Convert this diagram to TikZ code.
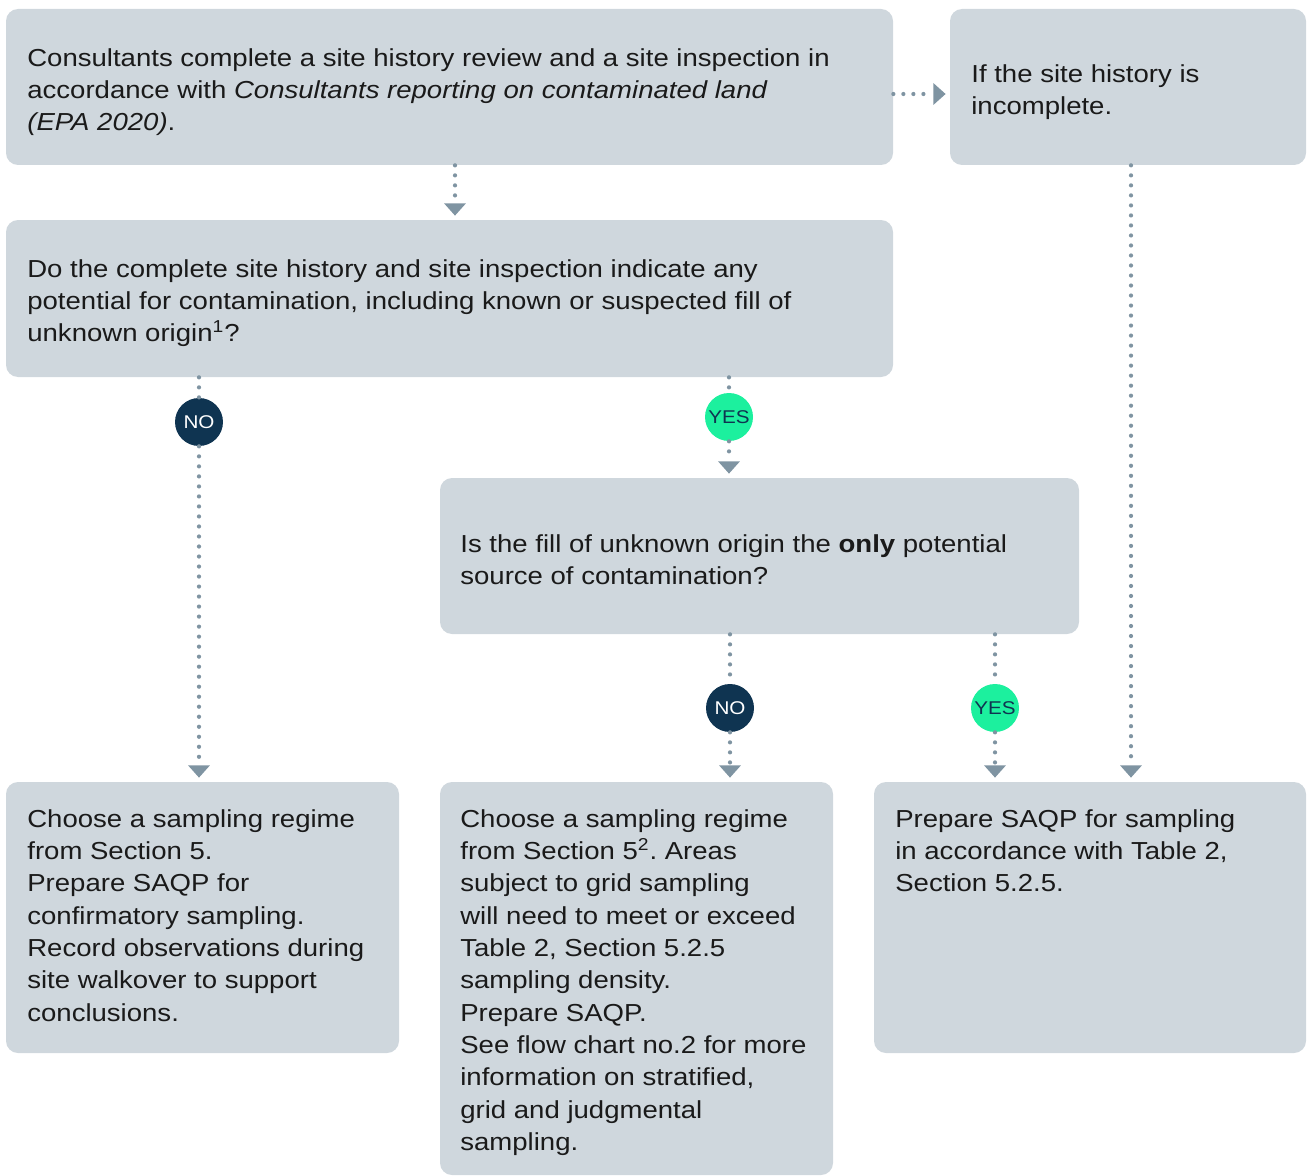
\documentclass[tikz,border=0pt]{standalone}
\usepackage{fontspec}
\setmainfont{Liberation Sans}[FakeStretch=1.12]
\usetikzlibrary{arrows.meta,fit}
\definecolor{boxfill}{HTML}{CFD7DD}
\definecolor{connc}{HTML}{7F94A2}
\definecolor{navy}{HTML}{0F3451}
\definecolor{mint}{HTML}{1CF09E}
\definecolor{txtc}{HTML}{1A1A1A}
\frenchspacing
\begin{document}
\begin{tikzpicture}[x=0.02cm,y=-0.02cm,
  box/.style={fill=boxfill, draw=none, rounded corners=0.24cm, inner sep=0pt},
  txt/.style={align=left, inner sep=0pt, text=txtc, font=\fontsize{14}{18.4}\selectfont},
  conn/.style={draw=connc, line width=2.4pt, line cap=round, dash pattern=on 0pt off 5.7pt,
    -{Triangle[width=12.5pt,length=7pt,line width=0pt]}, shorten >=2.3pt},
  plain/.style={draw=connc, line width=2.4pt, line cap=round, dash pattern=on 0pt off 5.7pt},
  badge/.style={circle, inner sep=0pt, minimum size=0.96cm, font=\fontsize{10.5}{12}\selectfont},
  badgeno/.style={badge, fill=navy, text=white},
  badgeyes/.style={badge, fill=mint, text=navy}]
\useasboundingbox (0,0) rectangle (1309,1176);

% boxes
\node[box, fit={(6,9)(893,165)}] (b1) {};
\node[box, fit={(950,9)(1306,165)}] (b2) {};
\node[box, fit={(6,220)(893,377)}] (b3) {};
\node[box, fit={(440,478)(1079,634)}] (b4) {};
\node[box, fit={(6,782)(399,1053)}] (b5) {};
\node[box, fit={(440,782)(833,1175)}] (b6) {};
\node[box, fit={(874,782)(1306,1053)}] (b7) {};

% texts
\node[txt, anchor=west] (t1) at (27,92) {Consultants complete a site history review and a site inspection in\\
accordance with \textit{Consultants reporting on contaminated land}\\
\textit{(EPA 2020)}.};
\node[txt, anchor=west] (t2) at (971,92) {If the site history is\\incomplete.};
\node[txt, anchor=west] (t3) at (27,303) {Do the complete site history and site inspection indicate any\\
potential for contamination, including known or suspected fill of\\
unknown origin\textsuperscript{1}?};
\node[txt, anchor=west] (t4) at (460,560) {Is the fill of unknown origin the \textbf{only} potential\\source of contamination?};
\node[txt, anchor=north west] (t5) at (27,809) {Choose a sampling regime\\from Section 5.\\Prepare SAQP for\\confirmatory sampling.\\Record observations during\\site walkover to support\\conclusions.};
\node[txt, anchor=north west] (t6) at (460,809) {Choose a sampling regime\\from Section 5\textsuperscript{2}. Areas\\subject to grid sampling\\will need to meet or exceed\\Table 2, Section 5.2.5\\sampling density.\\Prepare SAQP.\\See flow chart no.2 for more\\information on stratified,\\grid and judgmental\\sampling.};
\node[txt, anchor=north west] (t7) at (895,809) {Prepare SAQP for sampling\\in accordance with Table 2,\\Section 5.2.5.};

% badges
\node[badgeno] (n1) at (199,422) {NO};
\node[badgeyes] (y1) at (729,417) {YES};
\node[badgeno] (n2) at (730,708) {NO};
\node[badgeyes] (y2) at (995,708) {YES};

% connectors
\draw[conn] (b1.east |- 0,94) -- (b2.west |- 0,94);
\draw[conn] (b1.south -| 455,0) -- (b3.north -| 455,0);
\draw[plain] (b3.south -| n1) -- (n1);
\draw[conn] (n1) -- (b5.north -| n1);
\draw[plain] (b3.south -| y1) -- (y1);
\draw[conn] (y1) -- (b4.north -| y1);
\draw[plain] (b4.south -| n2) -- (n2);
\draw[conn] (n2) -- (b6.north -| n2);
\draw[plain] (b4.south -| y2) -- (y2);
\draw[conn] (y2) -- (b7.north -| y2);
\draw[conn] (b2.south -| 1131,0) -- (b7.north -| 1131,0);
\end{tikzpicture}
\end{document}
